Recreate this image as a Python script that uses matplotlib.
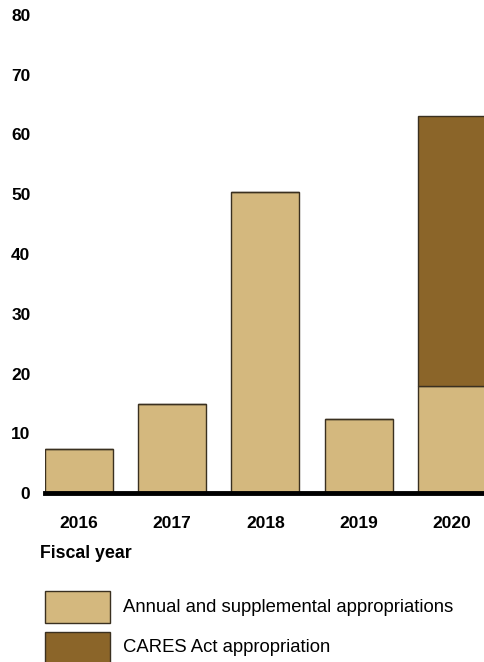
import matplotlib
matplotlib.use("Agg")
import matplotlib.pyplot as plt
from matplotlib.patches import Rectangle

plt.rcParams['font.family'] = ['Liberation Sans', 'DejaVu Sans']

years = ["2016", "2017", "2018", "2019", "2020"]
annual = [7.4, 14.9, 50.4, 12.4, 17.9]
cares = [0, 0, 0, 0, 45.2]
yticks = [0, 10, 20, 30, 40, 50, 60, 70, 80]
legend_labels = ["Annual and supplemental appropriations", "CARES Act appropriation"]

c_light = "#D4B87E"
c_dark = "#8B6529"
edge = "#3a3020"

W, H = 485, 662
fig = plt.figure(figsize=(W / 100, H / 100), dpi=100)
ax = fig.add_axes([45 / W, (H - 493) / H, 440 / W, (493 - 15) / H])

x = list(range(len(years)))
ax.bar(x, annual, width=0.73, color=c_light, edgecolor=edge, linewidth=1.0, zorder=2)
ax.bar(x, cares, width=0.73, bottom=annual, color=c_dark, edgecolor=edge, linewidth=1.0, zorder=2)

ax.set_xlim(-0.365, 4.355)
ax.set_ylim(0, 80)
ax.set_yticks(yticks)
ax.set_yticklabels([str(v) for v in yticks], fontsize=12.5, fontweight='bold')
ax.set_xticks(x)
ax.set_xticklabels(years, fontsize=12.5, fontweight='bold')
ax.tick_params(axis='y', length=0, pad=10.5)
ax.tick_params(axis='x', length=0, pad=16.5)
for s in ["top", "right", "left"]:
    ax.spines[s].set_visible(False)
ax.spines["bottom"].set_linewidth(3.5)
ax.spines["bottom"].set_color("black")
ax.spines["bottom"].set_zorder(3)

fig.text(40 / W, 1 - 554 / H, "Fiscal year", fontsize=12.8, fontweight='bold', va='center', ha='left')

# legend
for i, (lab, col) in enumerate(zip(legend_labels, [c_light, c_dark])):
    y0 = 591 + i * 41
    fig.patches.append(Rectangle((45 / W, 1 - (y0 + 32) / H), 65 / W, 32 / H,
                                 transform=fig.transFigure, facecolor=col,
                                 edgecolor=edge, linewidth=1.0))
    fig.text(123 / W, 1 - (y0 + 16) / H, lab, fontsize=13.3, va='center', ha='left')

fig.savefig("out.png", dpi=100)
